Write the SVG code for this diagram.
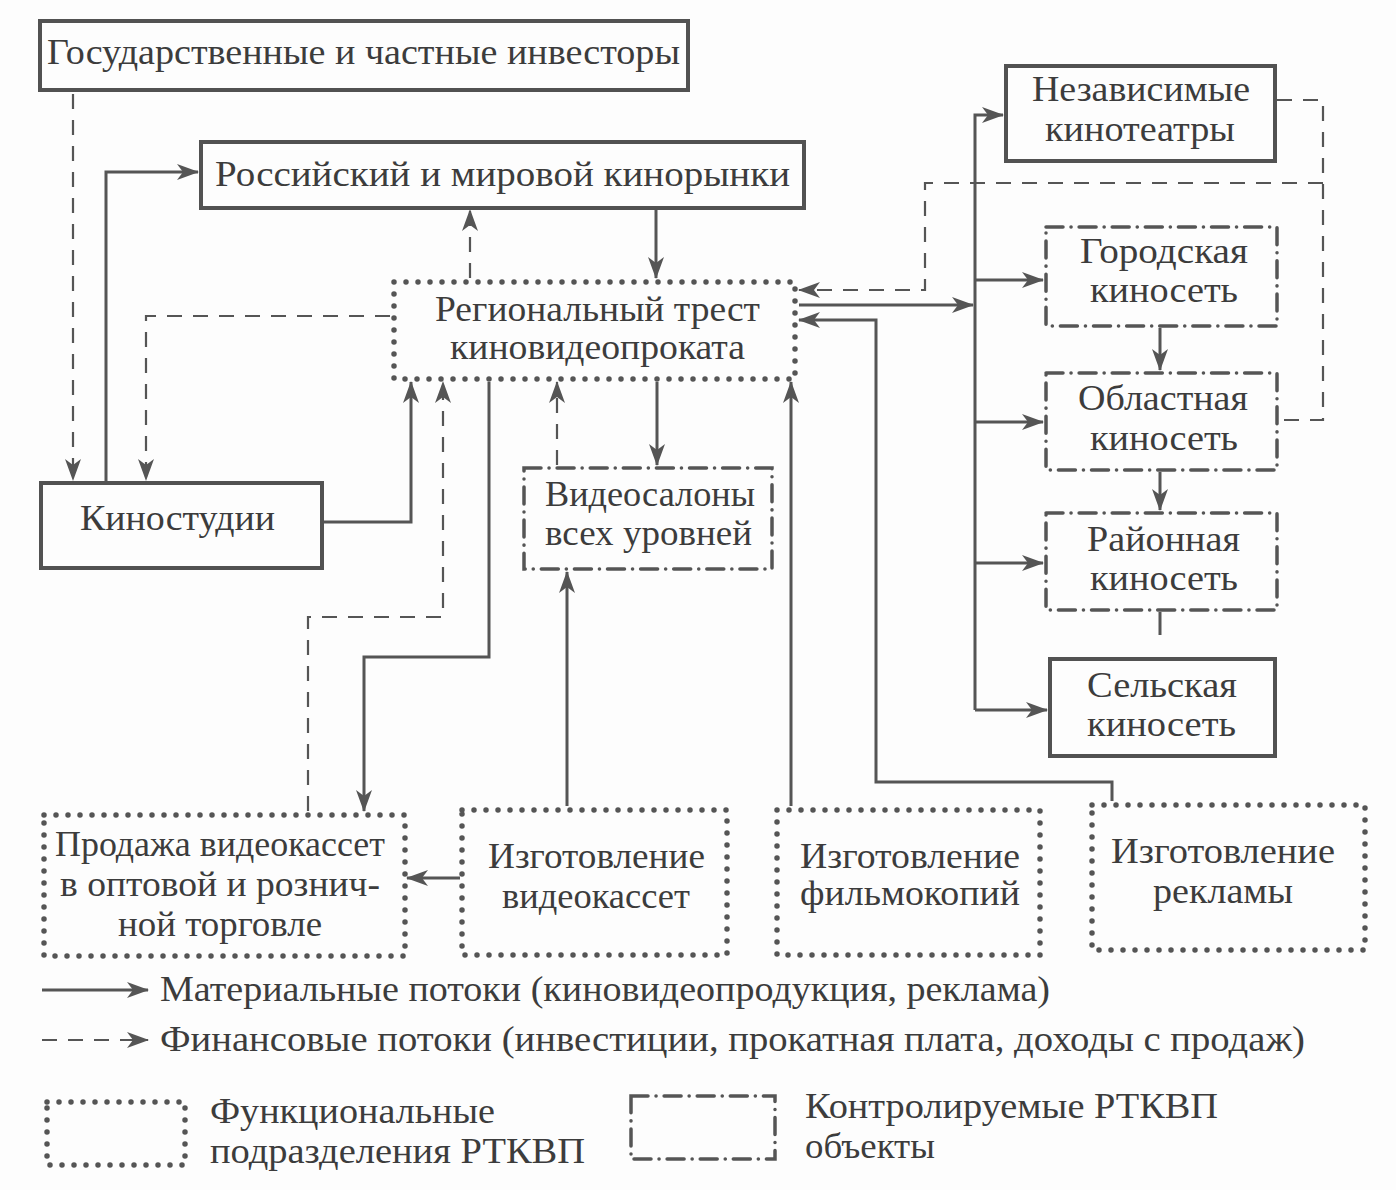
<svg xmlns="http://www.w3.org/2000/svg" width="1396" height="1190" viewBox="0 0 1396 1190">
<defs>
<style>
.bg{fill:#fdfdfd}
.t{font-family:"Liberation Serif","Times New Roman",serif;font-size:35px;fill:#3c3c3c}
.solid{fill:none;stroke:#525252;stroke-width:4}
.dot{fill:none;stroke:#555;stroke-width:5.5;stroke-linecap:round;stroke-dasharray:0 12}
.dd{fill:none;stroke:#555;stroke-width:3.5;stroke-linecap:round;stroke-dasharray:17 8 0.1 8}
.m{fill:none;stroke:#555;stroke-width:3}
.f{fill:none;stroke:#555;stroke-width:2.2;stroke-dasharray:15 11}
</style>
<marker id="ah" viewBox="0 0 22 16" refX="21" refY="8" markerWidth="22" markerHeight="16" markerUnits="userSpaceOnUse" orient="auto">
<path d="M0,0 L22,8 L0,16 L6,8 z" fill="#555"/>
</marker>
</defs>
<rect class="bg" x="0" y="0" width="1396" height="1190"/>

<g id="connectors">
<path class="f" d="M73,94 V480" marker-end="url(#ah)"/>
<path class="m" d="M106,482 V172 H198" marker-end="url(#ah)"/>
<path class="f" d="M390,316 H146 V480" marker-end="url(#ah)"/>
<path class="f" d="M470,278 V210" marker-end="url(#ah)"/>
<path class="m" d="M656,210 V278" marker-end="url(#ah)"/>
<path class="m" d="M322,522 H411 V382" marker-end="url(#ah)"/>
<path class="f" d="M308,811 V617 H443 V382" marker-end="url(#ah)"/>
<path class="m" d="M489,382 V657 H364 V811" marker-end="url(#ah)"/>
<path class="f" d="M557,465 V382" marker-end="url(#ah)"/>
<path class="m" d="M657,382 V465" marker-end="url(#ah)"/>
<path class="m" d="M567,806 V572" marker-end="url(#ah)"/>
<path class="m" d="M460,878 H407" marker-end="url(#ah)"/>
<path class="m" d="M791,806 V382" marker-end="url(#ah)"/>
<path class="m" d="M1112,801 V782 H876 V320 H799" marker-end="url(#ah)"/>
<path class="m" d="M799,305 H973" marker-end="url(#ah)"/>
<path class="m" d="M975,710 V115 H1003" marker-end="url(#ah)"/>
<path class="m" d="M975,280 H1043" marker-end="url(#ah)"/>
<path class="m" d="M975,422 H1043" marker-end="url(#ah)"/>
<path class="m" d="M975,563 H1043" marker-end="url(#ah)"/>
<path class="m" d="M975,710 H1047" marker-end="url(#ah)"/>
<path class="f" d="M1277,100 H1323 V420 H1279"/>
<path class="f" d="M1323,183 H925 V290 H799" marker-end="url(#ah)"/>
<path class="m" d="M1160,328 V370" marker-end="url(#ah)"/>
<path class="m" d="M1160,472 V510" marker-end="url(#ah)"/>
<path class="m" d="M1160,612 V635"/>
</g>

<g id="investors">
<rect class="solid" x="40" y="21" width="648" height="69"/>
<text class="t" x="47" y="64" textLength="633" lengthAdjust="spacingAndGlyphs">Государственные и частные инвесторы</text>
</g>
<g id="markets">
<rect class="solid" x="201" y="142" width="603" height="66"/>
<text class="t" x="215" y="186" textLength="575" lengthAdjust="spacingAndGlyphs">Российский и мировой кинорынки</text>
</g>
<g id="trust">
<rect class="dot" x="394" y="282" width="401" height="97"/>
<text class="t" x="435" y="321" textLength="325" lengthAdjust="spacingAndGlyphs">Региональный трест</text>
<text class="t" x="450" y="359" textLength="295" lengthAdjust="spacingAndGlyphs">киновидеопроката</text>
</g>
<g id="studios">
<rect class="solid" x="41" y="483" width="281" height="85"/>
<text class="t" x="80" y="530" textLength="195" lengthAdjust="spacingAndGlyphs">Киностудии</text>
</g>
<g id="videosalons">
<rect class="dd" x="524" y="468" width="248" height="101"/>
<text class="t" x="545" y="506" textLength="210" lengthAdjust="spacingAndGlyphs">Видеосалоны</text>
<text class="t" x="545" y="545" textLength="207" lengthAdjust="spacingAndGlyphs">всех уровней</text>
</g>
<g id="independent">
<rect class="solid" x="1006" y="66" width="269" height="95"/>
<text class="t" x="1032" y="101" textLength="218" lengthAdjust="spacingAndGlyphs">Независимые</text>
<text class="t" x="1045" y="141" textLength="190" lengthAdjust="spacingAndGlyphs">кинотеатры</text>
</g>
<g id="city">
<rect class="dd" x="1046" y="227" width="231" height="99"/>
<text class="t" x="1080" y="263" textLength="168" lengthAdjust="spacingAndGlyphs">Городская</text>
<text class="t" x="1090" y="302" textLength="148" lengthAdjust="spacingAndGlyphs">киносеть</text>
</g>
<g id="regional">
<rect class="dd" x="1046" y="373" width="231" height="97"/>
<text class="t" x="1078" y="410" textLength="170" lengthAdjust="spacingAndGlyphs">Областная</text>
<text class="t" x="1090" y="450" textLength="148" lengthAdjust="spacingAndGlyphs">киносеть</text>
</g>
<g id="district">
<rect class="dd" x="1046" y="513" width="231" height="97"/>
<text class="t" x="1087" y="551" textLength="153" lengthAdjust="spacingAndGlyphs">Районная</text>
<text class="t" x="1090" y="590" textLength="148" lengthAdjust="spacingAndGlyphs">киносеть</text>
</g>
<g id="rural">
<rect class="solid" x="1050" y="659" width="225" height="97"/>
<text class="t" x="1087" y="697" textLength="150" lengthAdjust="spacingAndGlyphs">Сельская</text>
<text class="t" x="1087" y="736" textLength="149" lengthAdjust="spacingAndGlyphs">киносеть</text>
</g>
<g id="sales">
<rect class="dot" x="44" y="815" width="361" height="141"/>
<text class="t" x="55" y="856" textLength="330" lengthAdjust="spacingAndGlyphs">Продажа видеокассет</text>
<text class="t" x="60" y="896" textLength="320" lengthAdjust="spacingAndGlyphs">в оптовой и рознич-</text>
<text class="t" x="118" y="936" textLength="204" lengthAdjust="spacingAndGlyphs">ной торговле</text>
</g>
<g id="cassettes">
<rect class="dot" x="462" y="810" width="265" height="145"/>
<text class="t" x="488" y="868" textLength="217" lengthAdjust="spacingAndGlyphs">Изготовление</text>
<text class="t" x="502" y="908" textLength="188" lengthAdjust="spacingAndGlyphs">видеокассет</text>
</g>
<g id="filmcopies">
<rect class="dot" x="777" y="810" width="263" height="145"/>
<text class="t" x="800" y="868" textLength="220" lengthAdjust="spacingAndGlyphs">Изготовление</text>
<text class="t" x="800" y="905" textLength="220" lengthAdjust="spacingAndGlyphs">фильмокопий</text>
</g>
<g id="ads">
<rect class="dot" x="1092" y="805" width="273" height="145"/>
<text class="t" x="1111" y="863" textLength="224" lengthAdjust="spacingAndGlyphs">Изготовление</text>
<text class="t" x="1153" y="903" textLength="140" lengthAdjust="spacingAndGlyphs">рекламы</text>
</g>

<g id="legend">
<path class="m" d="M42,990 H148" marker-end="url(#ah)"/>
<text class="t" x="160" y="1001" textLength="890" lengthAdjust="spacingAndGlyphs">Материальные потоки (киновидеопродукция, реклама)</text>
<path class="f" d="M42,1040 H148" marker-end="url(#ah)"/>
<text class="t" x="160" y="1051" textLength="1145" lengthAdjust="spacingAndGlyphs">Финансовые потоки (инвестиции, прокатная плата, доходы с продаж)</text>
<rect class="dot" x="47" y="1102" width="138" height="63"/>
<text class="t" x="210" y="1123" textLength="285" lengthAdjust="spacingAndGlyphs">Функциональные</text>
<text class="t" x="210" y="1163" textLength="375" lengthAdjust="spacingAndGlyphs">подразделения РТКВП</text>
<rect class="dd" x="631" y="1096" width="144" height="63"/>
<text class="t" x="805" y="1118" textLength="413" lengthAdjust="spacingAndGlyphs">Контролируемые РТКВП</text>
<text class="t" x="805" y="1158" textLength="130" lengthAdjust="spacingAndGlyphs">объекты</text>
</g>
</svg>
